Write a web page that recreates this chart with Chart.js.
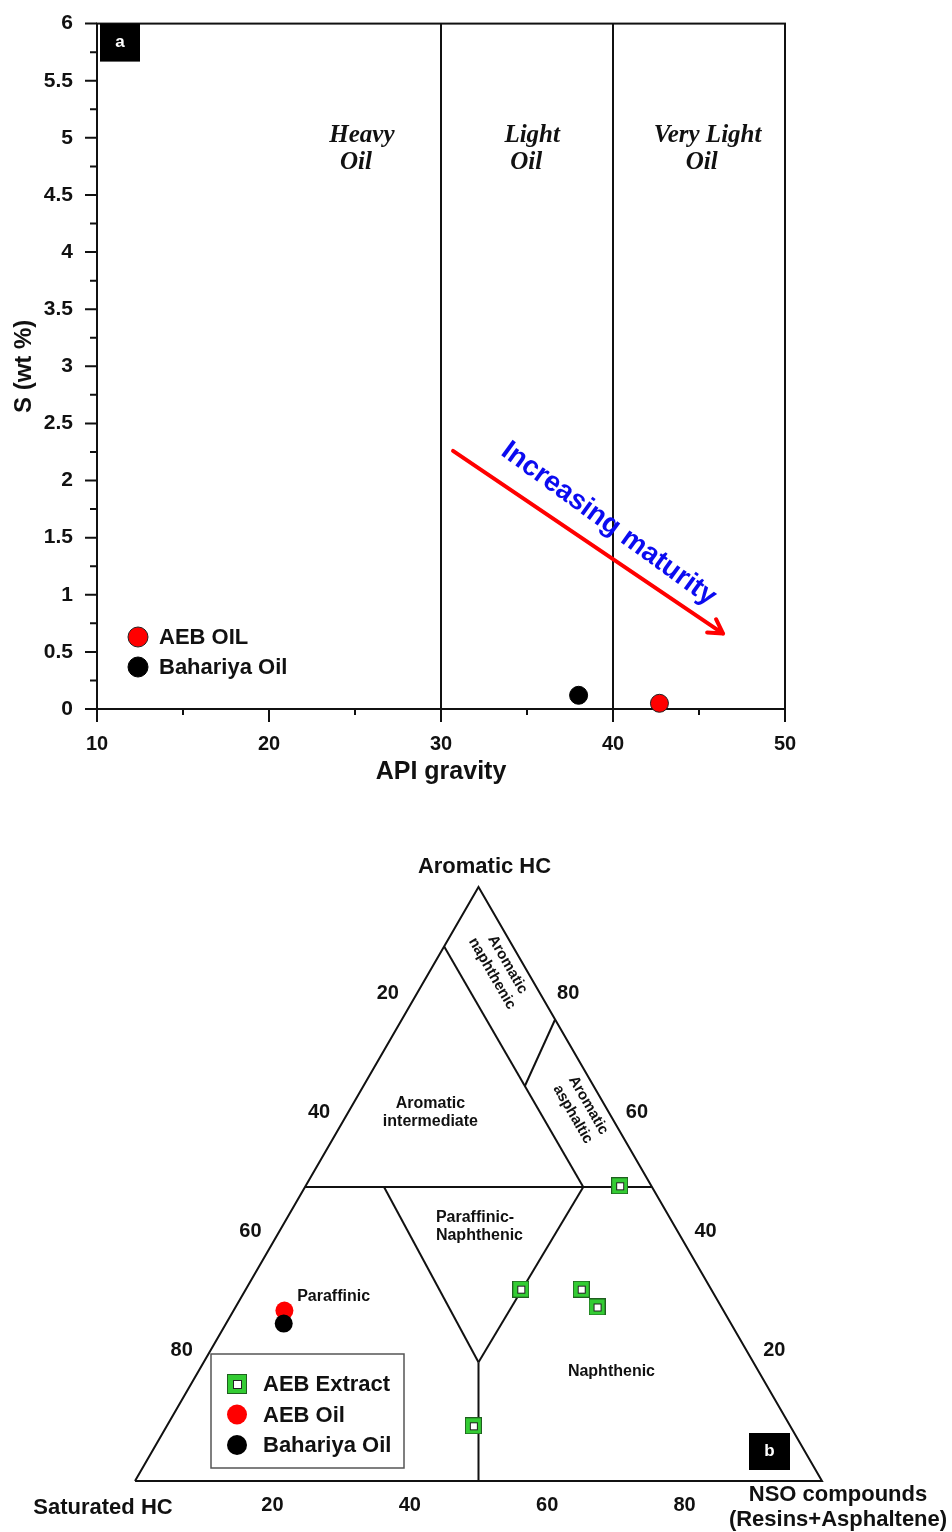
<!DOCTYPE html>
<html>
<head>
<meta charset="utf-8">
<title>Oil classification</title>
<script src="https://cdn.jsdelivr.net/npm/chart.js@4"></script>
<style>
	html, body { margin: 0; padding: 0; background: #fff; }
	#wrap-a { position: absolute; left: 0; top: 0; width: 952px; height: 800px; }
	#wrap-b { position: absolute; left: 0; top: 800px; width: 952px; height: 732px; }
</style>
</head>
<body>
<div id="wrap-a"><canvas id="chart-a"></canvas></div>
<div id="wrap-b"><canvas id="chart-b"></canvas></div>
<script>
// ---------- panel a : sulphur vs API gravity ----------
const apiTicks = [10, 20, 30, 40, 50];
const apiMinorTicks = [15, 25, 35, 45];
const sulphurTicks = [0, 0.5, 1, 1.5, 2, 2.5, 3, 3.5, 4, 4.5, 5, 5.5, 6];
const sulphurMinorTicks = [0.25, 0.75, 1.25, 1.75, 2.25, 2.75, 3.25, 3.75, 4.25, 4.75, 5.25, 5.75];

const aebOilApi = [42.7];
const aebOilS = [0.05];
const bahariyaApi = [38.0];
const bahariyaS = [0.12];

const oilClassBounds = [30, 40];
const oilClassNames = [['Heavy', 'Oil'], ['Light', 'Oil'], ['Very Light', 'Oil']];
const oilClassNameAt = [[25.4, 5.02], [35.3, 5.02], [45.5, 5.02]];

const maturityArrow = [[30.7, 2.26], [46.4, 0.66]];
const maturityText = 'Increasing maturity';
const maturityTextAt = [39.75, 1.62];

// ---------- panel b : ternary (Saturated, Aromatic, NSO %) ----------
const ternaryTicks = [20, 40, 60, 80];

const extractSat = [4.6, 27.7, 18.9, 18.1, 46.1];
const extractAro = [49.7, 32.3, 32.3, 29.3, 9.3];
const extractNso = [45.7, 40.0, 48.8, 52.6, 44.6];

const aebOilSat = [63.9];
const aebOilAro = [28.7];
const aebOilNso = [7.4];

const bahariyaSat = [65.1];
const bahariyaAro = [26.5];
const bahariyaNso = [8.4];

// field boundaries, each a list of [sat, aro, nso] nodes
const boundaryLines = [
	[[100, 0, 0], [0, 100, 0], [0, 0, 100], [100, 0, 0]],
	[[50.5, 49.5, 0], [0, 49.5, 50.5]],
	[[39, 49.5, 11.5], [40, 20, 40]],
	[[10, 49.5, 40.5], [40, 20, 40]],
	[[40, 20, 40], [50, 0, 50]],
	[[10, 90, 0], [10, 49.5, 40.5]],
	[[0, 77.7, 22.3], [10, 66.5, 23.5]]
];

const fieldNames = [
	{ text: ['Aromatic', 'intermediate'], at: [26, 62, 12], align: 'center', rot: 0 },
	{ text: ['Paraffinic-', 'Naphthenic'], at: [34.8, 42.8, 22.4], align: 'left', rot: 0 },
	{ text: ['Paraffinic'], at: [60.9, 31.0, 8.1], align: 'left', rot: 0 },
	{ text: ['Naphthenic'], at: [21.4, 18.5, 60.1], align: 'center', rot: 0 },
	{ text: ['Aromatic', 'naphthenic'], at: [3.8, 86.2, 10.0], align: 'center', rot: 60 },
	{ text: ['Aromatic', 'asphaltic'], at: [3.9, 62.5, 33.6], align: 'center', rot: 60 }
];

const SANS = "'Liberation Sans', Arial, sans-serif";
const SERIF = "'Liberation Serif', 'Times New Roman', serif";
Chart.defaults.font.family = SANS;
Chart.defaults.color = '#111';

function makeSquareMarker(size) {
	const c = document.createElement('canvas');
	c.width = size;
	c.height = size;
	const g = c.getContext('2d');
	g.fillStyle = '#33cc33';
	g.fillRect(0, 0, size, size);
	g.strokeStyle = '#1f5f1f';
	g.lineWidth = 1;
	g.strokeRect(0.5, 0.5, size - 1, size - 1);
	const inner = Math.round(size * 0.47);
	const o = Math.round((size - inner) / 2);
	g.fillStyle = '#fff';
	g.fillRect(o, o, inner, inner);
	g.strokeStyle = '#222';
	g.strokeRect(o + 0.5, o + 0.5, inner - 1, inner - 1);
	return c;
}

function labelBox(ctx, x, y, w, h, txt) {
	ctx.fillStyle = '#000';
	ctx.fillRect(x, y, w, h);
	ctx.fillStyle = '#fff';
	ctx.font = `bold 17px ${SANS}`;
	ctx.textAlign = 'center';
	ctx.textBaseline = 'middle';
	ctx.fillText(txt, x + w / 2, y + h / 2);
}

// ---------- panel a ----------
const panelA = {
	id: 'panelA',
	beforeDatasetsDraw(chart) {
		const { ctx, chartArea: ca, scales: { x, y } } = chart;
		ctx.save();
		ctx.strokeStyle = '#111';
		ctx.lineWidth = 2;
		ctx.strokeRect(ca.left, ca.top, ca.right - ca.left, ca.bottom - ca.top);

		// class boundaries
		ctx.beginPath();
		oilClassBounds.forEach(v => {
			const px = x.getPixelForValue(v);
			ctx.moveTo(px, ca.top);
			ctx.lineTo(px, ca.bottom);
		});
		ctx.stroke();

		// tick marks
		ctx.beginPath();
		apiTicks.forEach(v => { const px = x.getPixelForValue(v); ctx.moveTo(px, ca.bottom); ctx.lineTo(px, ca.bottom + 13); });
		apiMinorTicks.forEach(v => { const px = x.getPixelForValue(v); ctx.moveTo(px, ca.bottom); ctx.lineTo(px, ca.bottom + 6); });
		sulphurTicks.forEach(v => { const py = y.getPixelForValue(v); ctx.moveTo(ca.left, py); ctx.lineTo(ca.left - 12, py); });
		sulphurMinorTicks.forEach(v => { const py = y.getPixelForValue(v); ctx.moveTo(ca.left, py); ctx.lineTo(ca.left - 7, py); });
		ctx.stroke();

		// class names
		ctx.fillStyle = '#111';
		ctx.font = `italic bold 25px ${SERIF}`;
		ctx.textAlign = 'center';
		ctx.textBaseline = 'middle';
		oilClassNames.forEach((lines, i) => {
			const px = x.getPixelForValue(oilClassNameAt[i][0]);
			const py = y.getPixelForValue(oilClassNameAt[i][1]);
			ctx.fillText(lines[0], px, py);
			ctx.fillText(lines[1], px - 6, py + 27);
		});

		// maturity arrow
		const [p0, p1] = maturityArrow.map(p => [x.getPixelForValue(p[0]), y.getPixelForValue(p[1])]);
		ctx.strokeStyle = '#ff0000';
		ctx.lineWidth = 4;
		ctx.lineCap = 'round';
		ctx.beginPath();
		ctx.moveTo(p0[0], p0[1]);
		ctx.lineTo(p1[0], p1[1]);
		const ang = Math.atan2(p1[1] - p0[1], p1[0] - p0[0]);
		[-0.52, 0.52].forEach(d => {
			ctx.moveTo(p1[0], p1[1]);
			ctx.lineTo(p1[0] - 16 * Math.cos(ang + d), p1[1] - 16 * Math.sin(ang + d));
		});
		ctx.stroke();

		ctx.save();
		ctx.translate(x.getPixelForValue(maturityTextAt[0]), y.getPixelForValue(maturityTextAt[1]));
		ctx.rotate(36 * Math.PI / 180);
		ctx.fillStyle = '#0b0bf0';
		ctx.font = `bold 28px ${SANS}`;
		ctx.fillText(maturityText, 0, 0);
		ctx.restore();
		ctx.restore();
	},
	afterDatasetsDraw(chart) {
		const { ctx, chartArea: ca } = chart;
		ctx.save();
		// legend
		const items = chart.data.datasets;
		items.forEach((ds, i) => {
			const cy = ca.bottom - 72 + i * 30;
			ctx.beginPath();
			ctx.arc(ca.left + 41, cy, 10, 0, Math.PI * 2);
			ctx.fillStyle = ds.backgroundColor;
			ctx.fill();
			ctx.lineWidth = 1;
			ctx.strokeStyle = ds.borderColor;
			ctx.stroke();
			ctx.fillStyle = '#111';
			ctx.font = `bold 22px ${SANS}`;
			ctx.textAlign = 'left';
			ctx.textBaseline = 'middle';
			ctx.fillText(ds.label, ca.left + 62, cy + 1);
		});
		labelBox(ctx, ca.left + 3, ca.top, 40, 38, 'a');
		ctx.restore();
	}
};

new Chart(document.getElementById('chart-a'), {
	type: 'scatter',
	data: {
		datasets: [
			{
				label: 'AEB OIL',
				data: aebOilApi.map((v, i) => ({ x: v, y: aebOilS[i] })),
				backgroundColor: '#ff0000',
				borderColor: '#222',
				borderWidth: 1,
				pointRadius: 9,
				clip: false
			},
			{
				label: 'Bahariya Oil',
				data: bahariyaApi.map((v, i) => ({ x: v, y: bahariyaS[i] })),
				backgroundColor: '#000',
				borderColor: '#000',
				borderWidth: 1,
				pointRadius: 9,
				clip: false
			}
		]
	},
	options: {
		responsive: true,
		maintainAspectRatio: false,
		devicePixelRatio: 1,
		animation: false,
		events: [],
		layout: { padding: { left: 0, right: 167, top: 22, bottom: 0 } },
		plugins: { legend: { display: false }, tooltip: { enabled: false } },
		scales: {
			x: {
				type: 'linear',
				min: 10,
				max: 50,
				afterFit: s => { s.height = 91; },
				border: { display: false },
				grid: { display: false, drawTicks: true, tickLength: 13 },
				ticks: { stepSize: 10, padding: 10, color: '#111', font: { size: 20, weight: 'bold' } },
				title: { display: true, text: 'API gravity', color: '#111', font: { size: 25, weight: 'bold' }, padding: { top: 0, bottom: 13 } }
			},
			y: {
				min: 0,
				max: 6,
				afterFit: s => { s.width = 97; },
				border: { display: false },
				grid: { display: false, drawTicks: true, tickLength: 13 },
				ticks: {
					stepSize: 0.5,
					maxTicksLimit: 20,
					padding: 11,
					color: '#111',
					font: { size: 21, weight: 'bold' },
					callback: v => String(Number(v))
				},
				title: { display: true, text: 'S (wt %)', color: '#111', font: { size: 24, weight: 'bold' }, padding: { top: 10, bottom: 0 } }
			}
		}
	},
	plugins: [panelA]
});

// ---------- panel b ----------
const toXY = (s, a, n) => {
	const t = s + a + n;
	return { x: (n + a / 2) / t, y: (a / t) * Math.sqrt(3) / 2 };
};
const extractMarker = makeSquareMarker(17);
const extractLegendMarker = makeSquareMarker(20);

const boundaryDatasets = boundaryLines.map(seg => ({
	data: seg.map(p => toXY(p[0], p[1], p[2])),
	showLine: true,
	borderColor: '#111',
	borderWidth: 2,
	pointRadius: 0,
	fill: false,
	order: 5,
	clip: false
}));

const panelB = {
	id: 'panelB',
	beforeDatasetsDraw(chart) {
		const { ctx, chartArea: ca, scales: { x, y } } = chart;
		const px = (s, a, n) => { const p = toXY(s, a, n); return [x.getPixelForValue(p.x), y.getPixelForValue(p.y)]; };
		ctx.save();
		ctx.fillStyle = '#111';
		ctx.textBaseline = 'middle';

		// axis values
		ctx.font = `bold 20px ${SANS}`;
		ctx.textAlign = 'center';
		ternaryTicks.forEach(v => {
			let p = px(v, 100 - v, 0);
			ctx.fillText(String(v), p[0] - 22, p[1] - 12);
			p = px(0, v, 100 - v);
			ctx.fillText(String(v), p[0] + 21, p[1] - 12);
			p = px(100 - v, 0, v);
			ctx.fillText(String(v), p[0], p[1] + 24);
		});

		// corner names
		ctx.font = `bold 22px ${SANS}`;
		let p = px(0, 100, 0);
		ctx.fillText('Aromatic HC', p[0] + 6, p[1] - 20);
		p = px(100, 0, 0);
		ctx.fillText('Saturated HC', p[0] - 32, p[1] + 27);
		p = px(0, 0, 100);
		ctx.fillText('NSO compounds', p[0] + 16, p[1] + 14);
		ctx.fillText('(Resins+Asphaltene)', p[0] + 16, p[1] + 39);

		// field names
		fieldNames.forEach(f => {
			const c = px(f.at[0], f.at[1], f.at[2]);
			ctx.save();
			ctx.translate(c[0], c[1]);
			ctx.rotate(f.rot * Math.PI / 180);
			ctx.font = `bold ${f.rot ? 15 : 16}px ${SANS}`;
			ctx.textAlign = f.align;
			const lh = 18;
			const y0 = -(f.text.length - 1) * lh / 2;
			f.text.forEach((t, i) => ctx.fillText(t, 0, y0 + i * lh));
			ctx.restore();
		});
		ctx.restore();
	},
	afterDatasetsDraw(chart) {
		const { ctx, chartArea: ca } = chart;
		ctx.save();
		const bx = ca.left + 76, by = ca.bottom - 127;
		ctx.fillStyle = '#fff';
		ctx.fillRect(bx, by, 193, 114);
		ctx.strokeStyle = '#555';
		ctx.lineWidth = 1.5;
		ctx.strokeRect(bx, by, 193, 114);
		const entries = chart.data.datasets.filter(ds => ds.label);
		entries.forEach((ds, i) => {
			const cx = bx + 26, cy = by + 30 + i * 30.5;
			if (ds.pointStyle instanceof HTMLCanvasElement) {
				ctx.drawImage(extractLegendMarker, cx - 10, cy - 10);
			} else {
				ctx.beginPath();
				ctx.arc(cx, cy, 10, 0, Math.PI * 2);
				ctx.fillStyle = ds.backgroundColor;
				ctx.fill();
			}
			ctx.fillStyle = '#111';
			ctx.font = `bold 22px ${SANS}`;
			ctx.textAlign = 'left';
			ctx.textBaseline = 'middle';
			ctx.fillText(ds.label, bx + 52, cy + 1);
		});
		labelBox(ctx, ca.right - 73, ca.bottom - 48, 41, 37, 'b');
		ctx.restore();
	}
};

new Chart(document.getElementById('chart-b'), {
	type: 'scatter',
	data: {
		datasets: [
			...boundaryDatasets,
			{
				label: 'AEB Extract',
				data: extractSat.map((s, i) => toXY(s, extractAro[i], extractNso[i])),
				pointStyle: extractMarker,
				order: 1,
				clip: false
			},
			{
				label: 'AEB Oil',
				data: aebOilSat.map((s, i) => toXY(s, aebOilAro[i], aebOilNso[i])),
				backgroundColor: '#ff0000',
				borderWidth: 0,
				pointRadius: 9,
				order: 3,
				clip: false
			},
			{
				label: 'Bahariya Oil',
				data: bahariyaSat.map((s, i) => toXY(s, bahariyaAro[i], bahariyaNso[i])),
				backgroundColor: '#000',
				borderWidth: 0,
				pointRadius: 9,
				order: 2,
				clip: false
			}
		]
	},
	options: {
		responsive: true,
		maintainAspectRatio: false,
		devicePixelRatio: 1,
		animation: false,
		events: [],
		layout: { padding: { left: 135, right: 130, top: 87, bottom: 51 } },
		plugins: { legend: { display: false }, tooltip: { enabled: false } },
		scales: {
			x: { type: 'linear', min: 0, max: 1, display: false },
			y: { type: 'linear', min: 0, max: Math.sqrt(3) / 2, display: false }
		}
	},
	plugins: [panelB]
});
</script>
</body>
</html>
